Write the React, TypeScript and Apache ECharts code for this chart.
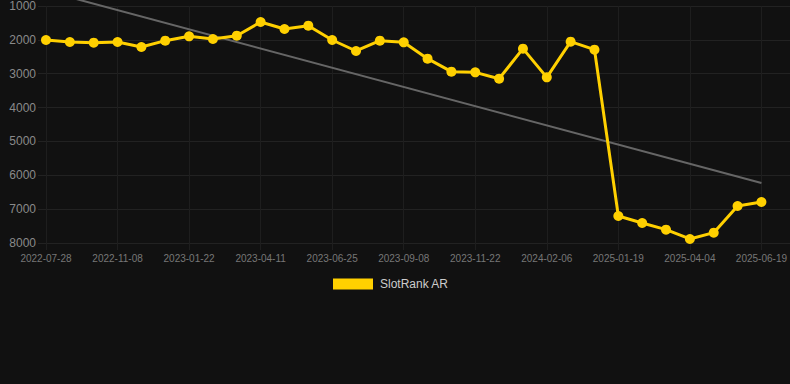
import React, { useEffect, useRef } from "react";
import * as echarts from "echarts";

const categories = [
  "2022-07-28", "2022-09-01", "2022-10-05", "2022-11-08", "2022-12-03", "2022-12-28",
  "2023-01-22", "2023-02-16", "2023-03-17", "2023-04-11", "2023-05-06", "2023-05-31",
  "2023-06-25", "2023-07-20", "2023-08-14", "2023-09-08", "2023-10-03", "2023-10-28",
  "2023-11-22", "2023-12-17", "2024-01-11", "2024-02-06", "2024-03-02", "2024-03-27",
  "2025-01-19", "2025-02-13", "2025-03-10", "2025-04-04", "2025-04-29", "2025-05-24",
  "2025-06-19",
];

const rankValues = [
  2004, 2063, 2083, 2063, 2211, 2024, 1896, 1975, 1877, 1473, 1680, 1581,
  2004, 2329, 2024, 2073, 2556, 2940, 2960, 3147, 2260, 3107, 2053, 2290,
  7202, 7409, 7606, 7881, 7695, 6907, 6788,
];

// Trend line endpoints
const trendPoints: [number, number][] = [
  [0, 554],
  [30, 6227],
];

const yTicks = { min: 1000, max: 8000, interval: 1000 };

const GRID_COLOR = "#222222";

export default function App() {
  const ref = useRef<HTMLDivElement>(null);
  useEffect(() => {
    document.body.style.margin = "0";
    document.body.style.background = "#111111";
    const chart = echarts.init(ref.current!, undefined, { renderer: "svg" });
    chart.setOption({
      animation: false,
      backgroundColor: "#111111",
      grid: [
        { left: 46, right: 28, top: 6, bottom: 141, containLabel: false },
        { left: 762, right: 0, top: 6, bottom: 141, containLabel: false },
      ],
      legend: {
        data: ["SlotRank AR"],
        top: 273,
        left: 328,
        itemWidth: 40,
        itemHeight: 11,
        itemGap: 10,
        icon: "rect",
        textStyle: { color: "#cccccc", fontSize: 12, fontFamily: "sans-serif", padding: [0, 0, 0, 2] },
      },
      xAxis: [
        {
          type: "category",
          gridIndex: 0,
          data: categories,
          boundaryGap: false,
          axisLine: { show: false },
          axisTick: {
            show: true,
            interval: 2,
            length: 7,
            lineStyle: { color: "#1e1e1e" },
          },
          axisLabel: {
            interval: 2,
            color: "#777777",
            fontSize: 10,
            margin: 10,
            fontFamily: "sans-serif",
          },
          splitLine: { show: true, interval: 2, lineStyle: { color: "#1e1e1e", width: 1 } },
        },
        {
          type: "value",
          gridIndex: 1,
          show: false,
          splitLine: { show: false },
        },
      ],
      yAxis: [
        {
          type: "value",
          gridIndex: 0,
          inverse: true,
          min: yTicks.min,
          max: yTicks.max,
          interval: yTicks.interval,
          axisLine: { show: false },
          axisTick: { show: true, length: 8, lineStyle: { color: GRID_COLOR } },
          axisLabel: {
            color: "#8a8a8a",
            fontSize: 12,
            margin: 10,
            fontFamily: "sans-serif",
            formatter: (v: number) => String(v),
          },
          splitLine: { show: true, lineStyle: { color: GRID_COLOR, width: 1 } },
        },
        {
          type: "value",
          gridIndex: 1,
          inverse: true,
          min: yTicks.min,
          max: yTicks.max,
          interval: yTicks.interval,
          axisLine: { show: false },
          axisTick: { show: false },
          axisLabel: { show: false },
          splitLine: { show: true, lineStyle: { color: GRID_COLOR, width: 1 } },
        },
      ],
      series: [
        {
          name: "SlotRank AR",
          type: "line",
          xAxisIndex: 0,
          yAxisIndex: 0,
          data: rankValues,
          symbol: "circle",
          symbolSize: 10,
          itemStyle: { color: "#FFD000" },
          lineStyle: { color: "#FFD000", width: 3 },
          z: 3,
        },
        {
          name: "Trend",
          type: "line",
          xAxisIndex: 0,
          yAxisIndex: 0,
          data: trendPoints,
          symbol: "none",
          clip: false,
          lineStyle: { color: "#666666", width: 2 },
          itemStyle: { color: "#666666" },
          z: 2,
        },
      ],
    });
    return () => chart.dispose();
  }, []);
  return <div ref={ref} style={{ width: 790, height: 384 }} />;
}
